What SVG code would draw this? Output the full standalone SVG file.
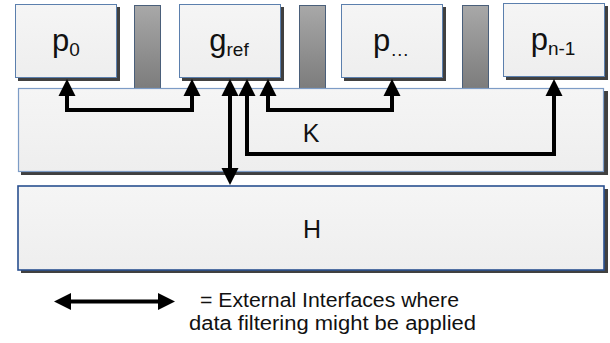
<svg xmlns="http://www.w3.org/2000/svg" width="610" height="343" viewBox="0 0 610 343">
  <defs>
    <linearGradient id="barFill" x1="0" y1="0" x2="0" y2="1">
      <stop offset="0" stop-color="#a8a8a8"/>
      <stop offset="1" stop-color="#7c7c7c"/>
    </linearGradient>
    <linearGradient id="boxFill" x1="0" y1="0" x2="0" y2="1">
      <stop offset="0" stop-color="#f5f5f5"/>
      <stop offset="1" stop-color="#eeeeee"/>
    </linearGradient>
    <marker id="head" viewBox="0 -9 18 18" refX="0" refY="0" markerWidth="18" markerHeight="18" markerUnits="userSpaceOnUse" orient="auto-start-reverse">
      <path d="M0,-8.5 L17,0 L0,8.5 Z" fill="#000"/>
    </marker>
  </defs>
  <style>
    .shadow { fill: #404040; }
    .box { fill: url(#boxFill); stroke: #5b7fad; stroke-width: 1; }
    .layer { fill: url(#boxFill); stroke: #7d9cc6; stroke-width: 1.2; }
    .base { fill: url(#boxFill); stroke: #2a5090; stroke-width: 1.6; }
    .bar { fill: url(#barFill); stroke: #4a5f7a; stroke-width: 1; }
    .lbl { font-family: "Liberation Sans", Arial, sans-serif; fill: #111; text-anchor: middle; }
    .big { font-size: 31px; }
    .sub { font-size: 19px; }
    .cap { font-size: 25px; }
    .note { font-family: "Liberation Sans", Arial, sans-serif; font-size: 20px; fill: #111; }
    .conn { fill: none; stroke: #000; stroke-width: 4; stroke-linejoin: miter; marker-start: url(#head); marker-end: url(#head); }
  </style>

  <!-- separator bars between the top components -->
  <g id="bars">
    <rect class="bar" x="134.5" y="5.5" width="26" height="83"/>
    <rect class="bar" x="299.5" y="5.5" width="26" height="83"/>
    <rect class="bar" x="462.5" y="5.5" width="26" height="83"/>
  </g>

  <!-- K layer -->
  <g id="K">
    <rect class="shadow" x="21" y="91" width="587" height="84"/>
    <rect class="layer" x="18.5" y="88.5" width="585" height="83"/>
    <text class="lbl cap" x="311" y="142">K</text>
  </g>

  <!-- H layer -->
  <g id="H">
    <rect class="shadow" x="21" y="189" width="587" height="84"/>
    <rect class="base" x="18" y="186" width="586" height="84"/>
    <text class="lbl cap" x="312" y="238">H</text>
  </g>

  <g id="p0">
    <rect class="shadow" x="18" y="7" width="102" height="74"/>
    <rect class="box" x="15.5" y="4.5" width="101" height="73"/>
    <text class="lbl" x="66" y="51"><tspan class="big">p</tspan><tspan class="sub" dy="5">0</tspan></text>
  </g>

  <g id="gref">
    <rect class="shadow" x="182" y="7" width="102" height="74"/>
    <rect class="box" x="179.5" y="4.5" width="101" height="73"/>
    <text class="lbl" x="229" y="51"><tspan class="big">g</tspan><tspan class="sub" dy="5">ref</tspan></text>
  </g>

  <g id="pdots">
    <rect class="shadow" x="344" y="7" width="102" height="74"/>
    <rect class="box" x="341.5" y="4.5" width="101" height="73"/>
    <text class="lbl" x="391" y="51"><tspan class="big">p</tspan><tspan class="sub" dy="5">…</tspan></text>
  </g>

  <g id="pn1">
    <rect class="shadow" x="506" y="6" width="102" height="74"/>
    <rect class="box" x="503.5" y="3.5" width="101" height="73"/>
    <text class="lbl" x="553" y="50"><tspan class="big">p</tspan><tspan class="sub" dy="5">n-1</tspan></text>
  </g>

  <!-- external interfaces -->
  <g id="connectors">
    <path class="conn" d="M67,96 V110 H192 V96"/>
    <path class="conn" d="M268,96 V110 H392 V96"/>
    <path class="conn" d="M247,96 V154 H554 V96"/>
    <path class="conn" d="M230,96 V168"/>
  </g>

  <!-- legend -->
  <g id="legend">
    <path class="conn" d="M71,301.5 H158"/>
    <text class="note" x="200" y="307" textLength="259" lengthAdjust="spacingAndGlyphs">= External Interfaces where</text>
    <text class="note" x="189" y="330" textLength="287" lengthAdjust="spacingAndGlyphs">data filtering might be applied</text>
  </g>
</svg>
